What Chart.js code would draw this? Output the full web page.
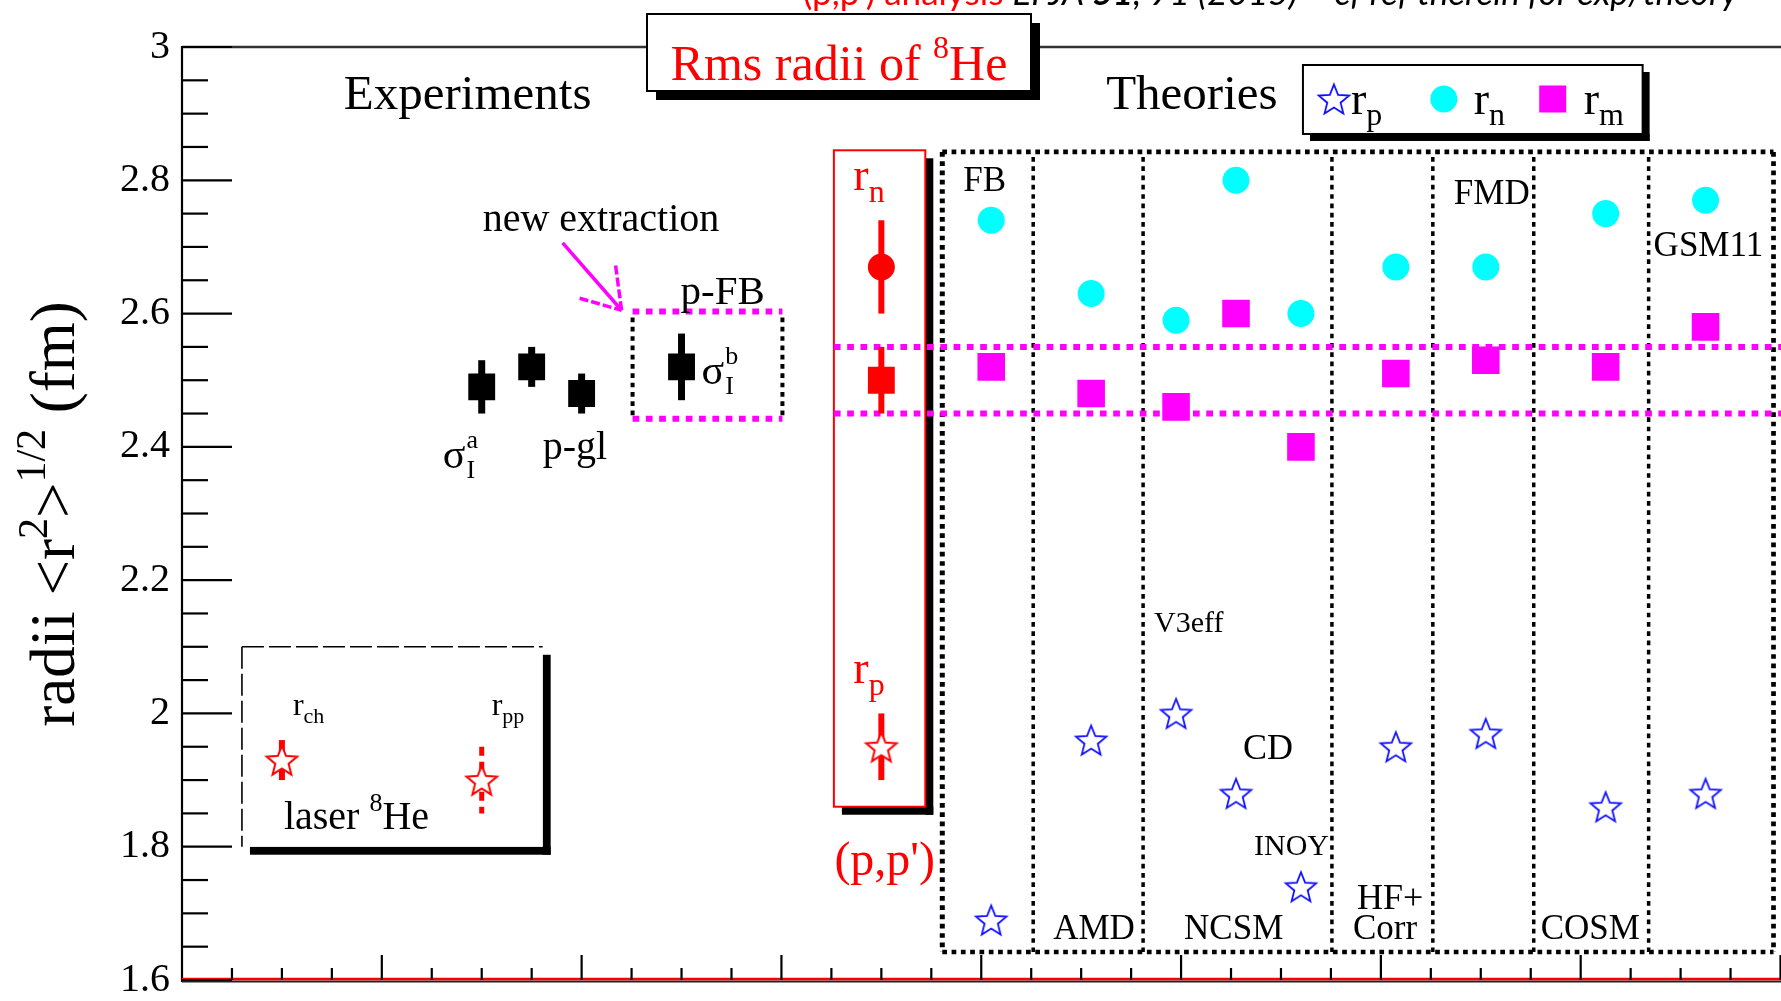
<!DOCTYPE html>
<html>
<head>
<meta charset="utf-8">
<script src="https://cdn.jsdelivr.net/npm/chart.js@4/dist/chart.umd.min.js"></script>
<style>
  html, body { margin: 0; padding: 0; background: #fff; overflow: hidden; }
  #wrap { position: relative; width: 1800px; height: 1001px; }
</style>
</head>
<body>
<div id="wrap"><canvas id="c" width="1800" height="1001"></canvas></div>
<script>
// ---------------- data: rms radii of 8He (fm) ----------------
// experimental matter radii (interaction cross section, p-gl, p-FB)
const expX   = [6, 7, 8, 10];
const expR   = [2.49, 2.52, 2.48, 2.52];
const expErr = [0.04, 0.03, 0.03, 0.05];

// (p,p') analysis : r_n, r_m, r_p
const ppX   = [14, 14, 14];
const ppR   = [2.67, 2.50, 1.95];
const ppErr = [0.07, 0.05, 0.05];

// laser spectroscopy : r_ch, r_pp
const laserX   = [2, 6];
const laserR   = [1.93, 1.90];
const laserErr = [0.03, 0.05];

// theories
const models  = ['FB', 'AMD', 'NCSM V3eff', 'NCSM CD', 'NCSM INOY', 'HF+Corr', 'FMD', 'COSM', 'GSM11'];
const modelX  = [16.2, 18.2, 19.9, 21.1, 22.4, 24.3, 26.1, 28.5, 30.5];
const modelRp = [1.69, 1.96, 2.00, 1.88, 1.74, 1.95, 1.97, 1.86, 1.88];
const modelRn = [2.74, 2.63, 2.59, 2.80, 2.60, 2.67, 2.67, 2.75, 2.77];
const modelRm = [2.52, 2.48, 2.46, 2.60, 2.40, 2.51, 2.53, 2.52, 2.58];

// labelled y ticks and the (p,p') r_m band
const yTickLabels = ['1.6', '1.8', '2', '2.2', '2.4', '2.6', '2.8', '3'];
const rmBand = [2.45, 2.55];

// ---------------- styling helpers ----------------
const SERIF = '"Liberation Serif", "Times New Roman", serif';
const SANS  = 'Lato, "Liberation Sans", sans-serif';

function starCanvas(stroke, fill, R, r, lw) {
  const s = Math.ceil(2 * R + 2 * lw + 4);
  const c = document.createElement('canvas');
  c.width = s; c.height = s;
  const g = c.getContext('2d');
  g.translate(s / 2, s / 2 + R * 0.095);
  g.beginPath();
  for (let i = 0; i < 10; i++) {
    const a = -Math.PI / 2 + i * Math.PI / 5;
    const rr = i % 2 ? r : R;
    g.lineTo(rr * Math.cos(a), rr * Math.sin(a));
  }
  g.closePath();
  if (fill) { g.fillStyle = fill; g.fill(); }
  g.lineWidth = lw; g.strokeStyle = stroke; g.lineJoin = 'miter';
  g.stroke();
  return c;
}
const blueStar = starCanvas('#1010ff', null, 16, 7, 1.8);
const redStar  = starCanvas('#ff0000', '#ffffff', 16, 7, 2);

const pts = (xs, ys) => xs.map((x, i) => ({ x, y: ys[i] }));
const isMajorY = v => Math.abs(v * 5 - Math.round(v * 5)) < 1e-6;

function fontOf(p) {
  return (p.style || '') + ' ' + (p.weight || '') + ' ' + p.size + 'px ' + (p.family || SERIF);
}
function richWidth(ctx, parts) {
  let w = 0;
  parts.forEach(p => { ctx.font = fontOf(p); w += ctx.measureText(p.t).width + (p.dx || 0); });
  return w;
}
function rich(ctx, x, y, parts, align) {
  const w = richWidth(ctx, parts);
  let cx = align === 'center' ? x - w / 2 : align === 'right' ? x - w : x;
  ctx.textAlign = 'left';
  ctx.textBaseline = 'alphabetic';
  parts.forEach(p => {
    ctx.font = fontOf(p);
    ctx.fillStyle = p.color || '#000';
    cx += p.dx || 0;
    ctx.fillText(p.t, cx, y + (p.dy || 0));
    cx += ctx.measureText(p.t).width;
  });
  return w;
}
function seg(ctx, x1, y1, x2, y2, color, w, dash) {
  ctx.save();
  ctx.beginPath();
  ctx.strokeStyle = color;
  ctx.lineWidth = w;
  ctx.lineCap = 'butt';
  ctx.setLineDash(dash || []);
  ctx.moveTo(x1, y1); ctx.lineTo(x2, y2);
  ctx.stroke();
  ctx.restore();
}
function shadowBox(ctx, l, t, r, b, s) {
  ctx.fillStyle = '#000';
  ctx.fillRect(r, t + s, s, b - t);
  ctx.fillRect(l + s, b, r - l, s);
}

// ---------------- decorations drawn through the scales ----------------
const decor = {
  id: 'decor',
  beforeDatasetsDraw(chart) {
    const ctx = chart.ctx;
    const X = v => chart.scales.x.getPixelForValue(v);
    const Y = v => chart.scales.y.getPixelForValue(v);
    const area = chart.chartArea;

    // laser box (dashed, shadowed)
    {
      const l = X(1.2), r = X(7.22), t = Y(2.1), b = Y(1.8);
      shadowBox(ctx, l, t, r, b, 8);
      ctx.save();
      ctx.fillStyle = '#fff';
      ctx.fillRect(l, t, r - l, b - t);
      ctx.restore();
      seg(ctx, l, t, r, t, '#000', 1.6, [22, 5]);
      seg(ctx, l, t, l, b, '#000', 1.6, [22, 5]);
    }

    // p-FB box
    {
      const l = X(9.02), r = X(12.02), t = Y(2.603), b = Y(2.442);
      seg(ctx, l, t, r, t, '#ff00ff', 6, [6.7, 6.6]);
      seg(ctx, l, b, r, b, '#ff00ff', 6, [6.7, 6.6]);
      seg(ctx, l, t + 6, l, b, '#000', 4, [4.7, 4.6]);
      seg(ctx, r, t + 6, r, b, '#000', 4, [4.7, 4.6]);
    }

    // arrow pointing at the new extraction
    {
      const tipX = X(8.8), tipY = Y(2.605);
      seg(ctx, X(7.62), Y(2.706), tipX, tipY, '#ff00ff', 3.5);
      seg(ctx, X(7.96), Y(2.623), tipX, tipY, '#ff00ff', 3.5, [9, 3]);
      seg(ctx, X(8.68), Y(2.672), tipX, tipY, '#ff00ff', 3.5, [9, 3]);
    }

    // (p,p') box, red outline with black shadow
    {
      const l = X(13.05), r = X(14.88), t = Y(2.845), b = Y(1.86);
      shadowBox(ctx, l, t, r, b, 8);
      ctx.save();
      ctx.fillStyle = '#fff';
      ctx.fillRect(l, t, r - l, b - t);
      ctx.strokeStyle = '#ff0000';
      ctx.lineWidth = 2;
      ctx.strokeRect(l, t, r - l, b - t);
      ctx.restore();
    }

    // theory panels (dotted)
    {
      const edges = [15.22, 17.04, 19.24, 23.02, 25.04, 27.06, 29.36, 31.86];
      const t = Y(2.8425), b = Y(1.642);
      const l = X(edges[0]), r = X(edges[edges.length - 1]);
      seg(ctx, l, t, r, t, '#000', 4.7, [4.7, 4.6]);
      seg(ctx, l, b, r, b, '#000', 4.7, [4.7, 4.6]);
      seg(ctx, l, t, l, b, '#000', 5, [4.7, 4.6]);
      seg(ctx, r, t, r, b, '#000', 4.7, [4.7, 4.6]);
      for (let i = 1; i < edges.length - 1; i++) {
        seg(ctx, X(edges[i]), t + 5, X(edges[i]), b, '#000', 3.5, [4.7, 4.6]);
      }
    }

    // r_m band from (p,p')
    rmBand.forEach(v => seg(ctx, X(13.05), Y(v), area.right + 10, Y(v), '#ff00ff', 6, [6.7, 6.6]));

    // error bars
    const bars = (xs, ys, es, color, w, dash) => xs.forEach((x, i) =>
      seg(ctx, X(x), Y(ys[i] + es[i]), X(x), Y(ys[i] - es[i]), color, w, dash));
    bars(expX, expR, expErr, '#000', 7);
    bars(ppX, ppR, ppErr, '#ff0000', 6);
    bars([laserX[0]], [laserR[0]], [laserErr[0]], '#ff0000', 6);
    bars([laserX[1]], [laserR[1]], [laserErr[1]], '#ff0000', 5, [9, 6]);
  },

  afterDatasetsDraw(chart) {
    const ctx = chart.ctx;
    const X = v => chart.scales.x.getPixelForValue(v);
    const Y = v => chart.scales.y.getPixelForValue(v);
    const T = (t, x, y, size, color, align) => rich(ctx, X(x), Y(y), [{ t, size, color }], align);

    ctx.save();
    T('Experiments', 3.24, 2.907, 49);
    T('Theories', 18.5, 2.907, 49);
    T('new extraction', 6.02, 2.724, 40);
    T('p-FB', 9.98, 2.614, 41);
    T('p-gl', 7.22, 2.382, 40);

    // sigma_I labels with stacked sub/superscripts
    const sigma = (x, y, sup) => {
      rich(ctx, X(x), Y(y), [{ t: 'σ', size: 42 }]);
      ctx.font = fontOf({ size: 42 });
      const w = ctx.measureText('σ').width;
      rich(ctx, X(x) + w + 1, Y(y) - 20, [{ t: sup, size: 26 }]);
      rich(ctx, X(x) + w + 1, Y(y) + 10, [{ t: 'I', size: 26 }]);
    };
    sigma(5.22, 2.368, 'a');
    sigma(10.4, 2.494, 'b');

    // laser box labels
    rich(ctx, X(2.22), Y(1.997), [{ t: 'r', size: 32 }, { t: 'ch', size: 22, dy: 8 }]);
    rich(ctx, X(6.2), Y(1.997), [{ t: 'r', size: 32 }, { t: 'pp', size: 22, dy: 8 }]);
    rich(ctx, X(2.04), Y(1.827), [{ t: 'laser ', size: 40 }, { t: '8', size: 26, dy: -18 }, { t: 'He', size: 40 }]);

    // (p,p') labels
    rich(ctx, X(13.44), Y(2.786), [{ t: 'r', size: 46, color: '#ff0000' }, { t: 'n', size: 32, dy: 12, color: '#ff0000' }]);
    rich(ctx, X(13.44), Y(2.045), [{ t: 'r', size: 46, color: '#ff0000' }, { t: 'p', size: 32, dy: 12, color: '#ff0000' }]);
    T("(p,p')", 13.06, 1.758, 48, '#ff0000');

    // model names
    T('FB', 15.64, 2.784, 35);
    T('FMD', 25.46, 2.764, 35);
    T('GSM11', 29.46, 2.686, 35);
    T('V3eff', 19.46, 2.122, 30);
    T('CD', 21.24, 1.932, 36);
    T('INOY', 21.46, 1.787, 30);
    T('HF+', 23.52, 1.707, 36);
    T('AMD', 17.44, 1.661, 35);
    T('NCSM', 20.06, 1.661, 35);
    T('Corr', 23.44, 1.661, 35);
    T('COSM', 27.2, 1.661, 35);
    ctx.restore();
  },

  afterDraw(chart) {
    const ctx = chart.ctx;
    const xs = chart.scales.x, ys = chart.scales.y;
    const area = chart.chartArea;
    ctx.save();

    // frame: top line, left axis, bottom axis (black with red overlay)
    seg(ctx, area.left, area.top, area.right + 20, area.top, '#333', 2.5);
    seg(ctx, area.left, area.top - 1, area.left, area.bottom + 2, '#000', 2.2);
    seg(ctx, area.left, area.bottom + 1.5, area.right + 20, area.bottom + 1.5, '#222', 2.2);
    seg(ctx, area.left, area.bottom - 1, area.right + 20, area.bottom - 1, '#ff0000', 2.5);

    // inward tick marks
    ys.ticks.forEach(t => {
      const p = ys.getPixelForValue(t.value);
      seg(ctx, area.left, p, area.left + (isMajorY(t.value) ? 50 : 26), p, '#000', 2.2);
    });
    xs.ticks.forEach(t => {
      if (t.value <= xs.min) return;
      const p = xs.getPixelForValue(t.value);
      seg(ctx, p, area.bottom, p, area.bottom - (t.value % 4 === 0 ? 25 : 12), '#000', 2.2);
    });

    // title box
    {
      const l = 647, t = 14, r = 1031, b = 91;
      shadowBox(ctx, l, t, r, b, 9);
      ctx.fillStyle = '#fff';
      ctx.fillRect(l, t, r - l, b - t);
      ctx.strokeStyle = '#000'; ctx.lineWidth = 2;
      ctx.strokeRect(l, t, r - l, b - t);
      rich(ctx, (l + r) / 2, 80, [
        { t: 'Rms radii of ', size: 50, color: '#ff0000' },
        { t: '8', size: 32, dy: -22, color: '#ff0000' },
        { t: 'He', size: 50, color: '#ff0000' }], 'center');
    }

    // legend box
    {
      const X = v => xs.getPixelForValue(v), Y = v => ys.getPixelForValue(v);
      const l = X(22.44), r = X(29.24), t = Y(2.973), b = Y(2.8695);
      shadowBox(ctx, l, t, r, b, 7);
      ctx.fillStyle = '#fff';
      ctx.fillRect(l, t, r - l, b - t);
      ctx.strokeStyle = '#000'; ctx.lineWidth = 2;
      ctx.strokeRect(l, t, r - l, b - t);
      const cy = Y(2.922);
      ctx.drawImage(blueStar, X(23.06) - blueStar.width / 2, cy - blueStar.height / 2);
      ctx.fillStyle = '#00ffff';
      ctx.beginPath(); ctx.arc(X(25.26), cy, 13.5, 0, Math.PI * 2); ctx.fill();
      ctx.fillStyle = '#ff00ff';
      ctx.fillRect(X(27.44) - 13.5, cy - 13.5, 27, 27);
      const base = Y(2.9);
      const entry = (x, sub) => rich(ctx, X(x), base, [{ t: 'r', size: 46 }, { t: sub, size: 32, dy: 11 }]);
      entry(23.4, 'p'); entry(25.86, 'n'); entry(28.06, 'm');
    }

    // reference line, cut by the top edge; sized to span its slot
    {
      const parts = [
        { t: "(p,p') analysis ", color: '#ff0000' },
        { t: 'EPJA ', style: 'italic' },
        { t: '51', style: 'italic', weight: 'bold' },
        { t: ', 91 (2015) \u2013 cf ref therein for exp/theory', style: 'italic' }];
      parts.forEach(p => { p.size = 100; p.family = SANS; });
      const s = 935 / richWidth(ctx, parts) * 100;
      parts.forEach(p => { p.size = s; });
      rich(ctx, 803, 5, parts);
    }

    // y-axis title, rotated
    ctx.save();
    ctx.translate(74, 514);
    ctx.rotate(-Math.PI / 2);
    rich(ctx, 0, 0, [
      { t: 'radii <r', size: 63 },
      { t: '2', size: 42, dy: -27 },
      { t: '>', size: 63 },
      { t: '1/2', size: 42, dy: -29 },
      { t: ' (fm)', size: 63 }], 'center');
    ctx.restore();

    ctx.restore();
  }
};

// ---------------- chart ----------------
const chart = new Chart(document.getElementById('c'), {
  type: 'scatter',
  data: {
    datasets: [
      { label: 'experiments r_m', data: pts(expX, expR), pointStyle: 'rect', pointRadius: 19, backgroundColor: '#000', borderWidth: 0 },
      { label: "(p,p') r_n", data: [{ x: ppX[0], y: ppR[0] }], pointStyle: 'circle', pointRadius: 13.5, backgroundColor: '#ff0000', borderWidth: 0 },
      { label: "(p,p') r_m", data: [{ x: ppX[1], y: ppR[1] }], pointStyle: 'rect', pointRadius: 19, backgroundColor: '#ff0000', borderWidth: 0 },
      { label: "(p,p') r_p", data: [{ x: ppX[2], y: ppR[2] }], pointStyle: redStar, pointRadius: 10 },
      { label: 'laser', data: pts(laserX, laserR), pointStyle: redStar, pointRadius: 10 },
      { label: 'r_n', data: pts(modelX, modelRn), pointStyle: 'circle', pointRadius: 13.5, backgroundColor: '#00ffff', borderWidth: 0 },
      { label: 'r_m', data: pts(modelX, modelRm), pointStyle: 'rect', pointRadius: 19.5, backgroundColor: '#ff00ff', borderWidth: 0 },
      { label: 'r_p', data: pts(modelX, modelRp), pointStyle: blueStar, pointRadius: 10 }
    ]
  },
  options: {
    responsive: false,
    animation: false,
    devicePixelRatio: 1,
    events: [],
    layout: { padding: { left: 0, right: 18, top: 47, bottom: 21 } },
    plugins: { legend: { display: false }, tooltip: { enabled: false } },
    scales: {
      x: {
        type: 'linear', min: 0, max: 32,
        ticks: { display: false, stepSize: 1, maxTicksLimit: 1000 },
        grid: { display: false, drawTicks: false },
        border: { display: false },
        afterFit: s => { s.height = 0; s.paddingLeft = s.paddingRight = 0; }
      },
      y: {
        type: 'linear', min: 1.6, max: 3.0,
        ticks: {
          stepSize: 0.05, autoSkip: false, maxTicksLimit: 1000, padding: 12,
          color: '#000', font: { family: SERIF, size: 40 },
          callback: v => {
            if (!isMajorY(v)) return '';
            return yTickLabels[Math.round((v - 1.6) * 5)];
          }
        },
        grid: { display: false, drawTicks: false },
        border: { display: false },
        afterFit: s => { s.width = 182; s.paddingTop = 0; s.paddingBottom = 0; }
      }
    }
  },
  plugins: [decor]
});
</script>
</body>
</html>
